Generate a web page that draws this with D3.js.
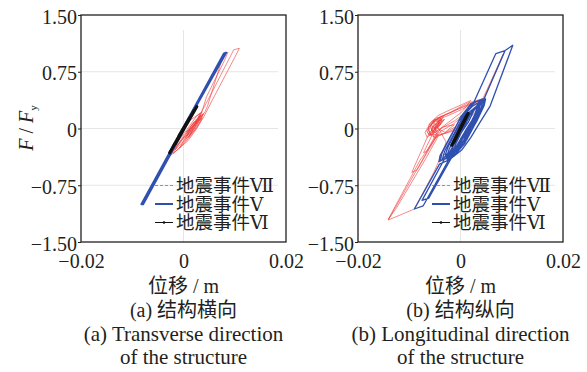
<!DOCTYPE html>
<html><head><meta charset="utf-8">
<script src="https://cdn.jsdelivr.net/npm/d3@7"></script>
<style>
html,body{margin:0;padding:0;background:#fff;}
svg{display:block;}
text{font-family:"Liberation Serif","DejaVu Serif","Noto Sans CJK SC",serif;fill:#231f20;}
</style></head>
<body>
<svg id="chart" width="587" height="372"></svg>
<script>
// ---------- data ----------
const xTicks = [-0.02, 0, 0.02];
const xTickLabels = ["\u22120.02", "0", "0.02"];
const yTicks = [-1.5, -0.75, 0, 0.75, 1.5];
const yTickLabels = ["\u22121.50", "\u22120.75", "0", "0.75", "1.50"];
const seriesNames = ["地震事件Ⅶ", "地震事件Ⅴ", "地震事件Ⅵ"];
const xAxisTitle = "位移 / m";
const panelTitlesCN = ["(a) 结构横向", "(b) 结构纵向"];
const panelTitlesEN1 = ["(a) Transverse direction", "(b) Longitudinal direction"];
const panelTitlesEN2 = ["of the structure", "of the structure"];

// transverse direction: [displacement m, F/Fy]
const transVII = [[0,0],[0.0015,0.12],[0.0032,0.2],[0.0028,0.13],[0.0008,-0.08],[-0.0012,-0.22],[-0.0024,-0.3],[-0.0018,-0.24],[0.0006,-0.02],[0.0025,0.16],[0.0036,0.22],[0.003,0.14],[0.0012,-0.06],[0.0004,-0.13],[0.0018,0.02],[0.0034,0.15],[0.0038,0.19],[0.0026,0.05],[0.0008,-0.12],[-0.0008,-0.26],[-0.0003,-0.2],[0.0014,0.0],[0.003,0.1],[0.0042,0.22],[0.0047,0.3],[0.0078,0.98],[0.0087,1.01],[0.008,0.9],[0.0045,0.42],[0.0035,0.2],[0.002,0.0],[0.001,-0.12],[0.0025,0.1],[0.0048,0.38],[0.0098,1.04],[0.0109,1.06],[0.01,0.94],[0.0055,0.36],[0.004,0.16],[0.0024,-0.02],[0.0009,-0.16],[-0.0015,-0.3],[-0.0026,-0.36],[-0.002,-0.3],[0.0002,-0.08],[0.0022,0.1],[0.0034,0.18],[0.0022,0.02],[0.0006,-0.1],[0.0016,0.05],[0.0028,0.12],[0.0015,0.0],[0.0005,-0.05],[0.0021,0.08],[0.0033,0.16],[0.0029,0.08],[0.0014,-0.08],[-0.0002,-0.18],[-0.0016,-0.28],[-0.0009,-0.2],[0.0011,-0.02],[0.0027,0.12],[0.0039,0.2],[0.0032,0.09],[0.0017,-0.07],[0.0001,-0.2],[-0.002,-0.33],[-0.0014,-0.25],[0.0007,-0.06],[0.0024,0.07],[0.0037,0.14],[0.0025,0.0],[0.001,-0.1]];
const transV = [[0,0],[0.0083,1.0],[0.0079,0.99],[-0.0082,-1.0],[-0.0079,-1.0],[0.0001,-0.01]];
const transVI = [[0,0],[0.0018,0.2],[-0.0016,-0.2],[0.0026,0.29],[-0.0027,-0.32],[0.0021,0.24],[-0.0021,-0.25],[0.0012,0.14],[-0.0009,-0.1],[0,0]];

// longitudinal direction
const longVII = [[0,0],[-0.0018,-0.04],[-0.0042,-0.09],[-0.0056,-0.02],[-0.0052,0.08],[-0.0036,0.13],[-0.0044,0.04],[-0.0059,-0.08],[-0.0063,0.01],[-0.0049,0.11],[-0.0028,0.16],[0.0002,0.25],[0.0026,0.34],[0.0041,0.39],[0.0022,0.2],[-0.0008,0.03],[-0.0034,-0.07],[-0.0051,-0.13],[-0.0057,0.0],[-0.0045,0.09],[-0.0031,0.12],[-0.0047,0.0],[-0.006,-0.1],[-0.0066,-0.03],[-0.0055,0.07],[-0.004,0.15],[-0.001,0.24],[0.0015,0.31],[0.0044,0.4],[0.0084,0.99],[0.008,0.93],[0.0048,0.42],[0.003,0.22],[0.0005,0.05],[-0.0025,-0.05],[-0.0048,-0.1],[-0.0141,-1.21],[-0.009,-1.064],[-0.0052,-0.58],[-0.0036,-0.33],[-0.0028,-0.18],[-0.0041,-0.02],[-0.0054,0.1],[-0.0038,0.14],[-0.0049,0.03],[-0.0061,-0.06],[-0.0095,-0.58],[-0.0085,-0.55],[-0.0054,-0.19],[-0.0043,-0.05],[-0.0058,0.05],[-0.0046,0.13],[-0.0022,0.2],[0.0008,0.3],[0.003,0.36],[0.0014,0.22],[-0.0014,0.06],[-0.0039,-0.04],[-0.0079,-0.42],[-0.0141,-1.2],[-0.0125,-1.05],[-0.0068,-0.4],[-0.0045,-0.12],[-0.005,0.02],[-0.0033,0.11],[-0.0045,0.0],[-0.003,-0.05],[-0.0012,0.05],[-0.0035,0.02],[-0.0052,-0.11],[-0.0064,-0.06],[-0.0061,0.06],[-0.0047,0.14],[-0.0033,0.16],[-0.0043,0.06],[-0.0055,-0.04],[-0.0059,0.04],[-0.0051,0.12],[-0.0036,0.1],[-0.0048,-0.02],[-0.0057,-0.09],[-0.0062,-0.02],[-0.0053,0.09],[-0.0041,0.15],[-0.0018,0.22],[0.0012,0.33],[0.0036,0.38],[0.0016,0.24],[-0.0012,0.1],[-0.0038,0.0],[-0.0053,-0.06],[-0.0049,0.05],[-0.0039,0.12],[-0.0046,0.02],[-0.0056,-0.05],[-0.0065,-0.12],[-0.0069,-0.05],[-0.0058,0.08],[-0.0044,0.17],[-0.0026,0.23],[0.0004,0.32],[0.002,0.37],[0.0003,0.22],[-0.0024,0.08],[-0.0045,-0.03],[-0.0055,-0.08],[-0.0072,-0.32],[-0.0066,-0.3],[-0.0048,-0.08],[-0.006,-0.08],[-0.0052,0.04],[-0.0042,0.08],[-0.0051,-0.01],[-0.0038,0.06],[-0.0047,0.1]];
const longV = [[0,0],[0.0018,0.22],[0.0034,0.31],[0.0027,0.17],[0.0009,-0.08],[-0.0014,-0.29],[-0.003,-0.35],[-0.0024,-0.24],[-0.0004,0.02],[0.0016,0.26],[0.0041,0.37],[0.0037,0.27],[0.0021,0.05],[0.0004,-0.19],[-0.0013,-0.37],[-0.0039,-0.42],[-0.0036,-0.32],[-0.0017,-0.08],[0.0001,0.16],[0.0021,0.33],[0.0047,0.4],[0.0044,0.29],[0.0027,0.04],[0.0012,-0.15],[-0.0006,-0.31],[-0.0028,-0.39],[-0.0022,-0.27],[-0.0004,-0.02],[0.0012,0.21],[0.0025,0.33],[0.0069,0.99],[0.0087,1.03],[0.0082,0.95],[0.0042,0.33],[0.0087,1.03],[0.0102,1.1],[0.0096,0.99],[0.0058,0.3],[0.0038,0.08],[0.002,-0.12],[0.0003,-0.28],[-0.0021,-0.41],[-0.0041,-0.47],[-0.009,-1.064],[-0.0073,-1.024],[-0.0011,-0.27],[0.0012,0.0],[0.0031,0.2],[0.0045,0.31],[0.0031,0.12],[0.0012,-0.1],[-0.0009,-0.3],[-0.0031,-0.4],[-0.0075,-0.95],[-0.0062,-0.92],[-0.0012,-0.32],[0.0008,-0.08],[0.0026,0.15],[0.0038,0.24],[0.0024,0.06],[0.0002,-0.16],[-0.0018,-0.3],[-0.0008,-0.12],[0.001,0.1],[0.0028,0.26],[0.0015,0.08],[-0.0005,-0.12],[-0.0023,-0.33],[-0.0035,-0.4],[-0.0031,-0.3],[-0.0012,-0.06],[0.0006,0.17],[0.0024,0.3],[0.0039,0.35],[0.0034,0.24],[0.0017,0.02],[-0.0001,-0.2],[-0.0019,-0.36],[-0.0042,-0.44],[-0.004,-0.36],[-0.0021,-0.12],[-0.0003,0.1],[0.0017,0.29],[0.0032,0.36],[0.0044,0.38],[0.004,0.26],[0.0024,0.02],[0.0008,-0.2],[-0.001,-0.34],[-0.0026,-0.42],[-0.002,-0.3],[-0.0002,-0.06],[0.0019,0.2],[0.0036,0.33],[0.0029,0.2],[0.0013,-0.02],[-0.0004,-0.22],[-0.0017,-0.33],[-0.0009,-0.2],[0.0007,0.02],[0.0022,0.22],[0.0043,0.34],[0.0049,0.39],[0.0046,0.3],[0.0032,0.1],[0.0015,-0.1],[-0.0003,-0.25],[-0.0028,-0.37]];
const longVI = [[0,0],[0.0012,0.17],[-0.0013,-0.18],[0.0015,0.2],[-0.0017,-0.22],[0.0009,0.13],[-0.001,-0.14],[0.0014,0.19],[-0.0015,-0.2],[0.0005,0.07],[0,0]];

// ---------- drawing ----------
const svg = d3.select("#chart");
const FS = 20;
const styles = [
  {color:"#f03a3a", width:0.75, opacity:0.8, legendDash:"3,2", legendWidth:1.2},
  {color:"#3050b0", width:1.3, opacity:1, legendDash:null, legendWidth:2},
  {color:"#111111", width:3.2, opacity:1, legendDash:null, legendWidth:1}
];
const panels = [
  {x0:81, x1:286, series:[transVII, transV, transVI], showYTitle:true, blueWidth:2.2},
  {x0:358, x1:563, series:[longVII, longV, longVI], showYTitle:false, blueWidth:1.3}
];
const y0 = 15, y1 = 242;

panels.forEach((p, pi) => {
  const x = d3.scaleLinear().domain([xTicks[0], xTicks[xTicks.length-1]]).range([p.x0, p.x1]);
  const y = d3.scaleLinear().domain([yTicks[0], yTicks[yTicks.length-1]]).range([y1, y0]);
  const g = svg.append("g");
  const cid = "clip" + pi;
  svg.append("clipPath").attr("id", cid).append("rect")
    .attr("x", p.x0).attr("y", y0).attr("width", p.x1 - p.x0).attr("height", y1 - y0);

  // gridlines
  g.append("g").selectAll("line").data(yTicks.slice(1, -1)).join("line")
    .attr("x1", p.x0).attr("x2", p.x1 - 8)
    .attr("y1", d => y(d)).attr("y2", d => y(d))
    .attr("stroke", "#e6e6e6").attr("stroke-width", 1);
  g.append("line").attr("x1", x(0)).attr("x2", x(0)).attr("y1", y0 + 15).attr("y2", y1)
    .attr("stroke", "#e6e6e6").attr("stroke-width", 1);

  // curves
  const line = d3.line().x(d => x(d[0])).y(d => y(d[1]));
  const cg = g.append("g").attr("clip-path", `url(#${cid})`);
  p.series.forEach((s, si) => {
    cg.append("path").datum(s).attr("d", line)
      .attr("fill", "none").attr("stroke", styles[si].color)
      .attr("stroke-width", si === 1 ? p.blueWidth : styles[si].width)
      .attr("stroke-opacity", styles[si].opacity)
      .attr("stroke-linejoin", "round");
  });

  // frame
  g.append("rect").attr("x", p.x0).attr("y", y0).attr("width", p.x1 - p.x0).attr("height", y1 - y0)
    .attr("fill", "none").attr("stroke", "#231f20").attr("stroke-width", 1.3);

  // y axis
  const ya = g.append("g").attr("transform", `translate(${p.x0},0)`)
    .call(d3.axisLeft(y).tickValues(yTicks).tickFormat((d, i) => yTickLabels[i]).tickSize(3).tickSizeOuter(0).tickPadding(1));
  ya.select(".domain").remove();
  ya.selectAll(".tick line").attr("stroke", "#231f20");
  ya.selectAll("text").attr("dy", null).attr("y", 8).attr("font-size", FS)
    .attr("font-family", "Liberation Serif").attr("fill", "#231f20");

  // x axis
  const xa = g.append("g").attr("transform", `translate(0,${y1})`)
    .call(d3.axisBottom(x).tickValues(xTicks).tickFormat((d, i) => xTickLabels[i]).tickSize(0));
  xa.select(".domain").remove();
  xa.selectAll("text").attr("dy", null).attr("y", 26).attr("font-size", FS)
    .attr("font-family", "Liberation Serif").attr("fill", "#231f20");

  // titles
  const cx = (p.x0 + p.x1) / 2;
  const t = g.append("g").attr("text-anchor", "middle").attr("font-size", FS);
  t.append("text").attr("x", cx).attr("y", 293).text(xAxisTitle);
  t.append("text").attr("x", cx).attr("y", 317).text(panelTitlesCN[pi]);
  t.append("text").attr("x", cx).attr("y", 341).attr("font-size", 21).text(panelTitlesEN1[pi]);
  t.append("text").attr("x", cx).attr("y", 364).attr("font-size", 21).text(panelTitlesEN2[pi]);

  if (p.showYTitle) {
    const yt = g.append("text").attr("transform", "translate(33,128) rotate(-90)")
      .attr("text-anchor", "middle").attr("font-size", FS);
    yt.append("tspan").attr("font-style", "italic").text("F");
    yt.append("tspan").text(" / ");
    yt.append("tspan").attr("font-style", "italic").text("F");
    yt.append("tspan").attr("font-size", 11).attr("dy", 4).text("y");
  }

  // legend
  const lx = p.x1 - 131;
  const rows = [185.5, 204, 222.5];
  seriesNames.forEach((name, si) => {
    const lg = g.append("g");
    lg.append("line").attr("x1", lx).attr("x2", lx + 18).attr("y1", rows[si]).attr("y2", rows[si])
      .attr("stroke", styles[si].color).attr("stroke-width", styles[si].legendWidth)
      .attr("stroke-opacity", si === 0 ? 0.7 : 1)
      .attr("stroke-dasharray", styles[si].legendDash);
    if (si === 2) {
      lg.append("circle").attr("cx", lx + 9).attr("cy", rows[si]).attr("r", 1.3).attr("fill", "#111");
    }
    lg.append("text").attr("x", lx + 21).attr("y", rows[si] + 6.5).attr("font-size", 18.5).text(name);
  });
});
</script>
</body></html>
